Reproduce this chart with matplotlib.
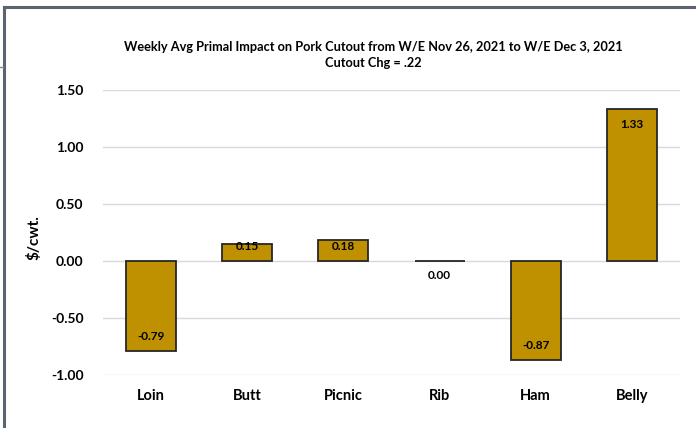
import matplotlib
matplotlib.use('Agg')
import matplotlib.pyplot as plt
from matplotlib.lines import Line2D

# data
primals = ['Loin', 'Butt', 'Picnic', 'Rib', 'Ham', 'Belly']
impact = [-0.79, 0.15, 0.18, -0.004, -0.87, 1.33]
value_labels = ['-0.79', '0.15', '0.18', '0.00', '-0.87', '1.33']
y_ticks = [-1.0, -0.5, 0.0, 0.5, 1.0, 1.5]
title = ('Weekly Avg Primal Impact on Pork Cutout from W/E Nov 26, 2021 to W/E Dec 3, 2021\n'
         'Cutout Chg = .22')

plt.rcParams['font.family'] = ['Lato', 'DejaVu Sans']

W, H = 696, 428
fig = plt.figure(figsize=(W / 100, H / 100), dpi=100)
fig.patch.set_facecolor('white')

# plot area in pixels
left, right, top, bottom = 103, 680, 90, 375
ax = fig.add_axes([left / W, 1 - bottom / H, (right - left) / W, (bottom - top) / H])

x = range(len(primals))
ax.bar(x, impact, width=0.52, color='#BF9000', edgecolor='#262626', linewidth=1.3, zorder=3)

ax.set_xlim(-0.5, len(primals) - 0.5)
ax.set_ylim(-1.0, 1.5)
ax.set_yticks(y_ticks)
ax.set_yticklabels([f'{t:.2f}' for t in y_ticks], fontsize=10, fontweight='bold')
ax.set_xticks(list(x))
ax.set_xticklabels(primals, fontsize=10.5, fontweight='bold')
ax.tick_params(axis='both', length=0, colors='black')
ax.tick_params(axis='y', pad=14)
ax.tick_params(axis='x', pad=10)
ax.grid(axis='y', color='#d9d9d9', linewidth=1, zorder=0)
for s in ax.spines.values():
    s.set_visible(False)

# value labels at inside end, kept clear of the zero line like Excel does
inset = 0.13
for xi, v, lab in zip(x, impact, value_labels):
    if v > 0:
        ly = max(v - inset, inset)
    else:
        ly = min(v + inset, -inset)
    ax.text(xi, ly, lab, ha='center', va='center', fontsize=8.5, fontweight='bold', zorder=4)

fig.text(373 / W, 1 - 55 / H, title, ha='center', va='center', fontsize=9.2,
         fontweight='bold', linespacing=1.45)
fig.text(34 / W, 1 - 238 / H, '$/cwt.', rotation=90, ha='center', va='center',
         fontsize=11, fontweight='bold')

# outer chart frame (partly outside the crop)
frame = '#5b6470'
fig.add_artist(Line2D([4 / W, 1], [1 - 7 / H, 1 - 7 / H], color=frame, linewidth=2.2,
                      transform=fig.transFigure))
fig.add_artist(Line2D([4 / W, 4 / W], [1 - 7 / H, 0], color=frame, linewidth=2.2,
                      transform=fig.transFigure))
fig.add_artist(Line2D([0, 3 / W], [1 - 67 / H, 1 - 67 / H], color='#888888', linewidth=1,
                      transform=fig.transFigure))

fig.savefig('out.png', dpi=100)
